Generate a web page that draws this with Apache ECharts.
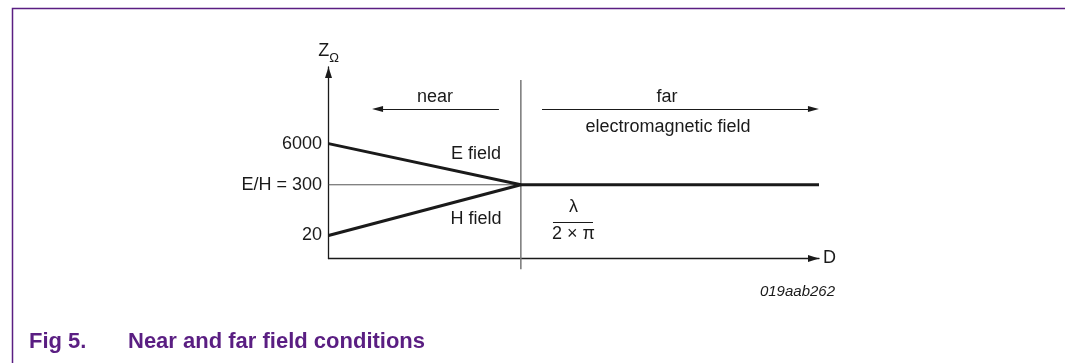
<!DOCTYPE html>
<html>
<head>
<meta charset="utf-8">
<style>
html, body { margin: 0; padding: 0; background: #fff; }
#chart { width: 1065px; height: 363px; }
</style>
<script src="https://cdn.jsdelivr.net/npm/echarts@6/dist/echarts.min.js"></script>
</head>
<body>
<div id="chart"></div>
<script>
// D is measured in units of lambda / (2 x pi); Z sits on a schematic height scale
const nearD = [0, 1];
const farD = [1, 2.55];
const eField = [60, 38.5];
const hField = [12, 38.5];
const farField = [38.5, 38.5];
const levelValues = [12, 38.5, 60];
const levelLabels = ['20', 'E/H = 300', '6000'];

const font = '"Liberation Sans", Arial, Helvetica, sans-serif';
const ink = '#1a1a1a';
const purple = '#5a1e82';

const pair = (xs, ys) => xs.map((x, i) => [x, ys[i]]);

const chart = echarts.init(document.getElementById('chart'), null, { renderer: 'canvas' });

const axisLine = {
  show: true,
  symbol: ['none', 'triangle'],
  symbolSize: [7, 11],
  symbolOffset: [0, -5.5],
  lineStyle: { color: ink, width: 1.3 }
};

const option = {
  animation: false,
  title: [
    { text: 'Fig 5.', left: 29, top: 331, padding: 0,
      textStyle: { fontSize: 22, fontWeight: 'bold', color: purple, fontFamily: font } },
    { text: 'Near and far field conditions', left: 128, top: 331, padding: 0,
      textStyle: { fontSize: 22, fontWeight: 'bold', color: purple, fontFamily: font } }
  ],
  grid: { left: 328.5, right: 1065 - 819, top: 67, bottom: 363 - 258.5 },
  xAxis: {
    type: 'value', min: 0, max: 2.55,
    axisLine: axisLine,
    axisTick: { show: false },
    axisLabel: { show: false },
    splitLine: { show: false },
    name: 'D', nameLocation: 'end', nameGap: 4,
    nameTextStyle: { fontSize: 18, color: ink, fontFamily: font }
  },
  yAxis: {
    type: 'value', min: 0, max: 100,
    axisLine: axisLine,
    axisTick: { show: false },
    splitLine: { show: false },
    axisLabel: {
      customValues: levelValues,
      formatter: v => levelLabels[levelValues.indexOf(v)],
      fontSize: 18, color: ink, fontFamily: font, margin: 6.5
    },
    name: '{z|Z}{s|Ω}', nameLocation: 'end', nameGap: 2.5,
    nameTextStyle: {
      rich: {
        z: { fontSize: 18, lineHeight: 22, verticalAlign: 'top', color: ink, fontFamily: font },
        s: { fontSize: 13, lineHeight: 22, verticalAlign: 'bottom', color: ink, fontFamily: font }
      }
    }
  },
  series: [
    {
      name: 'E/H', type: 'line', symbol: 'none', silent: true, z: 1,
      data: pair(nearD, farField),
      lineStyle: { color: '#555', width: 1 }
    },
    {
      name: 'boundary', type: 'line', symbol: 'none', silent: true, clip: false, z: 1,
      data: [[nearD[1], 93.2], [nearD[1], -5.6]],
      lineStyle: { color: '#777', width: 1.5 }
    },
    {
      name: 'E field', type: 'line', symbol: 'none', silent: true, clip: false,
      data: pair(nearD, eField),
      lineStyle: { color: ink, width: 3 }
    },
    {
      name: 'H field', type: 'line', symbol: 'none', silent: true, clip: false,
      data: pair(nearD, hField),
      lineStyle: { color: ink, width: 3 }
    },
    {
      name: 'far field', type: 'line', symbol: 'none', silent: true, clip: false,
      data: pair(farD, farField),
      lineStyle: { color: ink, width: 3 },
      markLine: {
        silent: true, animation: false,
        symbol: ['none', 'triangle'], symbolSize: [6, 11],
        label: { show: false },
        lineStyle: { color: ink, width: 1.2, type: 'solid' },
        data: [
          [{ coord: [0.886, 78.1] }, { coord: [0.255, 78.1] }],
          [{ coord: [1.11, 78.1] }, { coord: [2.521, 78.1] }]
        ]
      }
    },
    {
      name: 'fraction', type: 'line', symbol: 'none', silent: true, data: [],
      markLine: {
        silent: true, animation: false, symbol: ['none', 'none'],
        label: { show: false },
        lineStyle: { color: ink, width: 1, type: 'solid' },
        data: [[{ coord: [1.167, 18.7] }, { coord: [1.375, 18.7] }]]
      }
    }
  ]
};

chart.setOption(option);

// text notes placed in data coordinates
const notes = [
  ['near', 0.554, 84.4],
  ['far', 1.76, 84.4],
  ['electromagnetic field', 1.765, 68.8],
  ['E field', 0.767, 54.7],
  ['H field', 0.767, 20.7],
  ['λ', 1.274, 27.0],
  ['2 × π', 1.274, 12.9]
];
const graphic = notes.map(([text, x, y]) => {
  const p = chart.convertToPixel({ gridIndex: 0 }, [x, y]);
  return {
    type: 'text', x: p[0], y: p[1], silent: true,
    style: { text: text, align: 'center', verticalAlign: 'middle', fontSize: 18, fontFamily: font, fill: ink }
  };
});
graphic.push({
  type: 'text', x: 835, y: 291.8, silent: true,
  style: { text: '019aab262', align: 'right', verticalAlign: 'middle', fontSize: 15, fontStyle: 'italic', fontFamily: font, fill: ink }
});
graphic.push({
  type: 'polyline', silent: true,
  shape: { points: [[1065, 8.5], [12.5, 8.5], [12.5, 363]] },
  style: { stroke: purple, lineWidth: 1.5, fill: null }
});
chart.setOption({ graphic: graphic });

window.addEventListener('resize', chart.resize);
</script>
</body>
</html>
